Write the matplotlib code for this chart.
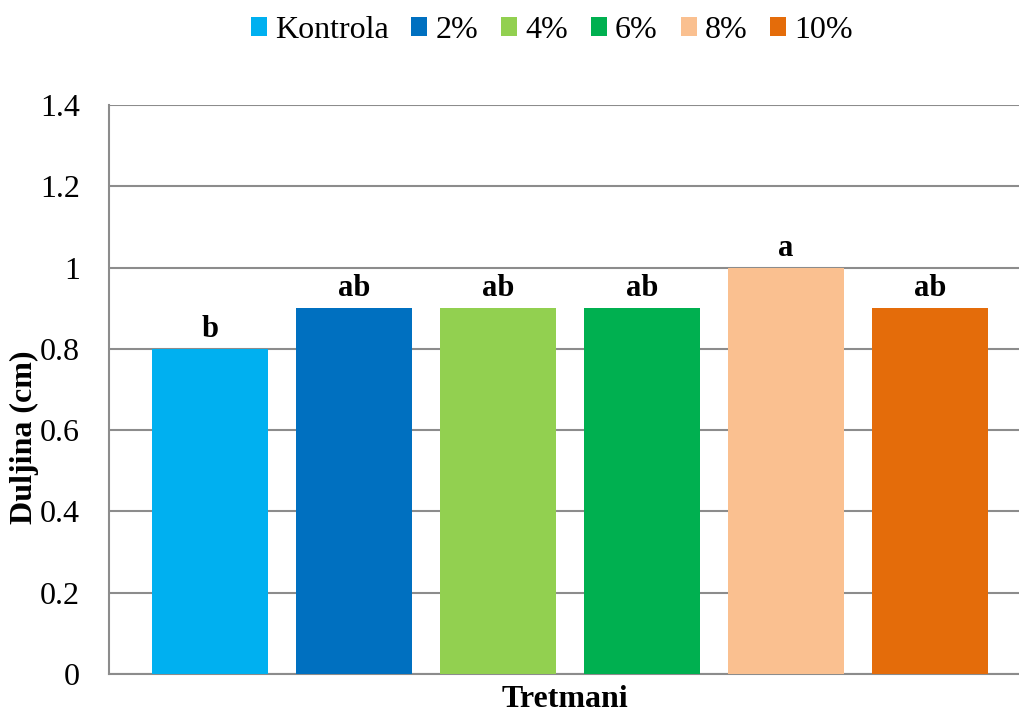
import matplotlib
matplotlib.use("Agg")
from matplotlib import pyplot as plt
import numpy as np

treatments = ["Kontrola", "2%", "4%", "6%", "8%", "10%"]
lengths = [0.8, 0.9, 0.9, 0.9, 1.0, 0.9]
letters = ["b", "ab", "ab", "ab", "a", "ab"]
colors = ["#00B0F0", "#0070C0", "#92D050", "#00B050", "#FAC090", "#E46C0A"]
yticks = [0, 0.2, 0.4, 0.6, 0.8, 1, 1.2, 1.4]
ytick_labels = ["0", "0.2", "0.4", "0.6", "0.8", "1", "1.2", "1.4"]

plt.rcParams["font.family"] = ["Liberation Serif", "DejaVu Serif"]

fig = plt.figure(figsize=(10.2, 7.13), dpi=100)
ax = fig.add_axes([0.1069, 0.0547, 0.8931, 0.798])

x = np.arange(len(treatments))
bars = ax.bar(x, lengths, width=0.806, color=colors, label=treatments, zorder=3)

for xi, v, t in zip(x, lengths, letters):
    ax.text(xi, v + 0.012, t, ha="center", va="bottom", fontsize=22,
            fontweight="bold")

ax.set_xlim(-0.701, 5.625)
ax.set_ylim(0, 1.4)
ax.set_yticks(yticks)
ax.set_yticklabels(ytick_labels, fontsize=23)
ax.set_xticks([])
ax.tick_params(axis="y", length=0, pad=21)
ax.yaxis.grid(True, color="#8c8c8c", linewidth=1.5, zorder=0)

for s in ["top", "right"]:
    ax.spines[s].set_visible(False)
ax.spines["left"].set_color("#8c8c8c")
ax.spines["bottom"].set_color("#8c8c8c")
ax.spines["left"].set_linewidth(1.5)
ax.spines["bottom"].set_linewidth(1.5)
ax.spines["left"].set_bounds(0, 1.4)

fig.text(24 / 1020, 1 - 437 / 713, "Duljina (cm)", rotation=90, fontsize=23,
         fontweight="bold", ha="center", va="center")
ax.set_xlabel("Tretmani", fontsize=23, fontweight="bold", labelpad=8)

fig.legend(handles=bars, labels=treatments, loc="upper center",
           bbox_to_anchor=(0.541, 1.018), ncol=6, frameon=False, fontsize=23,
           handlelength=0.5, handleheight=0.5, handletextpad=0.25,
           columnspacing=0.72)

fig.savefig("out.png", dpi=100)
